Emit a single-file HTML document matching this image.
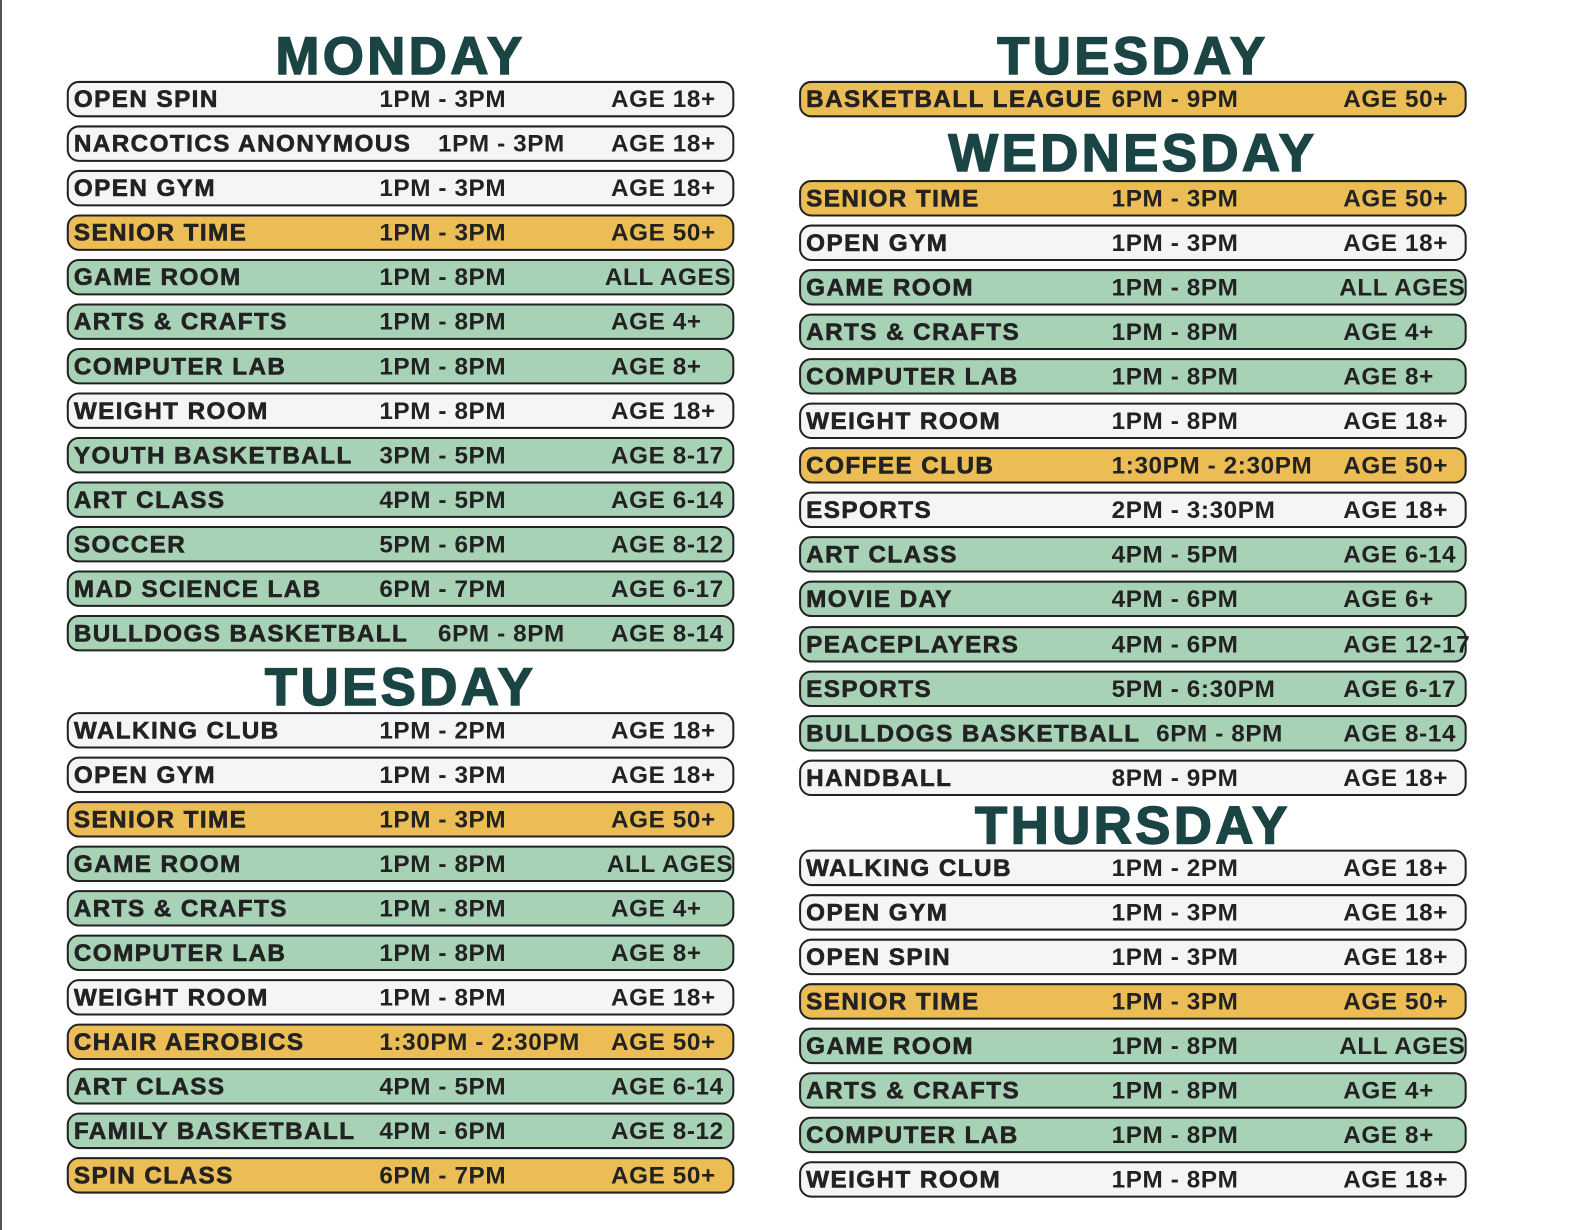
<!DOCTYPE html>
<html><head><meta charset="utf-8"><style>
body{margin:0;width:1584px;height:1230px;background:#fff;position:relative;overflow:hidden;font-family:"Liberation Sans",sans-serif}
.lb{position:absolute;left:0;top:0;width:2px;height:1230px;background:#555}
#wrap{position:absolute;left:0;top:0;width:1566px;height:1216px;transform:scale(1.0115);transform-origin:0 0}
.t{position:absolute;width:660px;text-align:center;font-weight:900;font-size:52px;color:#1b4444;line-height:52px;letter-spacing:3.5px;-webkit-text-stroke:1.5px #1b4444}
.r{position:absolute;width:656px;height:32px;border:2px solid #222;border-radius:12px;font-weight:bold;font-size:24px;line-height:33px;color:#222;letter-spacing:0.6px}
.r b,.r i,.r u{position:absolute;top:0;font-style:normal;text-decoration:none;white-space:nowrap}
.r b{left:5px;font-weight:900;letter-spacing:1.4px;-webkit-text-stroke:0.6px #222}
.r i{left:307px}
.r u{left:536px}
.w{background:#f4f5f7}.o{background:#ecbd55}.g{background:#a8d2b6}
.L{left:66px}.R{left:790px}
</style></head><body>
<div class="lb"></div>
<div id="wrap">
<div class="t" style="left:66px;top:30px">MONDAY</div>
<div class="r L w" style="top:80px"><b>OPEN SPIN</b><i>1PM - 3PM</i><u>AGE 18+</u></div>
<div class="r L w" style="top:124px"><b>NARCOTICS ANONYMOUS</b><i style="left:365px">1PM - 3PM</i><u>AGE 18+</u></div>
<div class="r L w" style="top:168px"><b>OPEN GYM</b><i>1PM - 3PM</i><u>AGE 18+</u></div>
<div class="r L o" style="top:212px"><b>SENIOR TIME</b><i>1PM - 3PM</i><u>AGE 50+</u></div>
<div class="r L g" style="top:256px"><b>GAME ROOM</b><i>1PM - 8PM</i><u style="left:530px">ALL AGES</u></div>
<div class="r L g" style="top:300px"><b>ARTS &amp; CRAFTS</b><i>1PM - 8PM</i><u>AGE 4+</u></div>
<div class="r L g" style="top:344px"><b>COMPUTER LAB</b><i>1PM - 8PM</i><u>AGE 8+</u></div>
<div class="r L w" style="top:388px"><b>WEIGHT ROOM</b><i>1PM - 8PM</i><u>AGE 18+</u></div>
<div class="r L g" style="top:432px"><b>YOUTH BASKETBALL</b><i>3PM - 5PM</i><u>AGE 8-17</u></div>
<div class="r L g" style="top:476px"><b>ART CLASS</b><i>4PM - 5PM</i><u>AGE 6-14</u></div>
<div class="r L g" style="top:520px"><b>SOCCER</b><i>5PM - 6PM</i><u>AGE 8-12</u></div>
<div class="r L g" style="top:564px"><b>MAD SCIENCE LAB</b><i>6PM - 7PM</i><u>AGE 6-17</u></div>
<div class="r L g" style="top:608px"><b>BULLDOGS BASKETBALL</b><i style="left:365px">6PM - 8PM</i><u>AGE 8-14</u></div>
<div class="t" style="left:66px;top:654px">TUESDAY</div>
<div class="r L w" style="top:704px"><b>WALKING CLUB</b><i>1PM - 2PM</i><u>AGE 18+</u></div>
<div class="r L w" style="top:748px"><b>OPEN GYM</b><i>1PM - 3PM</i><u>AGE 18+</u></div>
<div class="r L o" style="top:792px"><b>SENIOR TIME</b><i>1PM - 3PM</i><u>AGE 50+</u></div>
<div class="r L g" style="top:836px"><b>GAME ROOM</b><i>1PM - 8PM</i><u style="left:532px">ALL AGES</u></div>
<div class="r L g" style="top:880px"><b>ARTS &amp; CRAFTS</b><i>1PM - 8PM</i><u>AGE 4+</u></div>
<div class="r L g" style="top:924px"><b>COMPUTER LAB</b><i>1PM - 8PM</i><u>AGE 8+</u></div>
<div class="r L w" style="top:968px"><b>WEIGHT ROOM</b><i>1PM - 8PM</i><u>AGE 18+</u></div>
<div class="r L o" style="top:1012px"><b>CHAIR AEROBICS</b><i>1:30PM - 2:30PM</i><u>AGE 50+</u></div>
<div class="r L g" style="top:1056px"><b>ART CLASS</b><i>4PM - 5PM</i><u>AGE 6-14</u></div>
<div class="r L g" style="top:1100px"><b>FAMILY BASKETBALL</b><i>4PM - 6PM</i><u>AGE 8-12</u></div>
<div class="r L o" style="top:1144px"><b>SPIN CLASS</b><i>6PM - 7PM</i><u>AGE 50+</u></div>

<div class="t" style="left:790px;top:30px">TUESDAY</div>
<div class="r R o" style="top:80px"><b>BASKETBALL LEAGUE</b><i>6PM - 9PM</i><u>AGE 50+</u></div>
<div class="t" style="left:790px;top:126px">WEDNESDAY</div>
<div class="r R o" style="top:178px"><b>SENIOR TIME</b><i>1PM - 3PM</i><u>AGE 50+</u></div>
<div class="r R w" style="top:222px"><b>OPEN GYM</b><i>1PM - 3PM</i><u>AGE 18+</u></div>
<div class="r R g" style="top:266px"><b>GAME ROOM</b><i>1PM - 8PM</i><u style="left:532px">ALL AGES</u></div>
<div class="r R g" style="top:310px"><b>ARTS &amp; CRAFTS</b><i>1PM - 8PM</i><u>AGE 4+</u></div>
<div class="r R g" style="top:354px"><b>COMPUTER LAB</b><i>1PM - 8PM</i><u>AGE 8+</u></div>
<div class="r R w" style="top:398px"><b>WEIGHT ROOM</b><i>1PM - 8PM</i><u>AGE 18+</u></div>
<div class="r R o" style="top:442px"><b>COFFEE CLUB</b><i>1:30PM - 2:30PM</i><u>AGE 50+</u></div>
<div class="r R w" style="top:486px"><b>ESPORTS</b><i>2PM - 3:30PM</i><u>AGE 18+</u></div>
<div class="r R g" style="top:530px"><b>ART CLASS</b><i>4PM - 5PM</i><u>AGE 6-14</u></div>
<div class="r R g" style="top:574px"><b>MOVIE DAY</b><i>4PM - 6PM</i><u>AGE 6+</u></div>
<div class="r R g" style="top:619px"><b>PEACEPLAYERS</b><i>4PM - 6PM</i><u>AGE 12-17</u></div>
<div class="r R g" style="top:663px"><b>ESPORTS</b><i>5PM - 6:30PM</i><u>AGE 6-17</u></div>
<div class="r R g" style="top:707px"><b>BULLDOGS BASKETBALL</b><i style="left:351px">6PM - 8PM</i><u>AGE 8-14</u></div>
<div class="r R w" style="top:751px"><b>HANDBALL</b><i>8PM - 9PM</i><u>AGE 18+</u></div>
<div class="t" style="left:790px;top:791px">THURSDAY</div>
<div class="r R w" style="top:840px"><b>WALKING CLUB</b><i>1PM - 2PM</i><u>AGE 18+</u></div>
<div class="r R w" style="top:884px"><b>OPEN GYM</b><i>1PM - 3PM</i><u>AGE 18+</u></div>
<div class="r R w" style="top:928px"><b>OPEN SPIN</b><i>1PM - 3PM</i><u>AGE 18+</u></div>
<div class="r R o" style="top:972px"><b>SENIOR TIME</b><i>1PM - 3PM</i><u>AGE 50+</u></div>
<div class="r R g" style="top:1016px"><b>GAME ROOM</b><i>1PM - 8PM</i><u style="left:532px">ALL AGES</u></div>
<div class="r R g" style="top:1060px"><b>ARTS &amp; CRAFTS</b><i>1PM - 8PM</i><u>AGE 4+</u></div>
<div class="r R g" style="top:1104px"><b>COMPUTER LAB</b><i>1PM - 8PM</i><u>AGE 8+</u></div>
<div class="r R w" style="top:1148px"><b>WEIGHT ROOM</b><i>1PM - 8PM</i><u>AGE 18+</u></div>
</div>
</body></html>
